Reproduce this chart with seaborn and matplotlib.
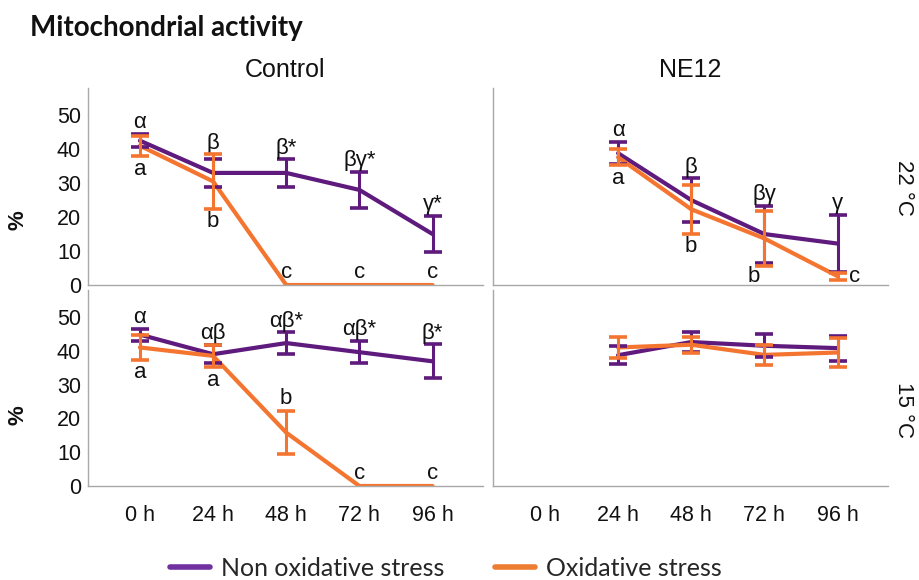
import numpy as np
import pandas as pd
import matplotlib
matplotlib.use("Agg")
import matplotlib.pyplot as plt
import seaborn as sns
from matplotlib.lines import Line2D

# ---------------- data ----------------
times = ["0 h", "24 h", "48 h", "72 h", "96 h"]
series_names = ["Non oxidative stress", "Oxidative stress"]
columns = ["Control", "NE12"]
rows = ["22 °C", "15 °C"]

# Control, 22 °C
ctrl22_non = [42.5, 33.0, 33.0, 28.0, 15.0]
ctrl22_non_err = [2.0, 4.2, 4.0, 5.3, 5.4]
ctrl22_ox = [41.0, 30.5, 0.0, 0.0, 0.0]
ctrl22_ox_err = [3.0, 8.0, 0.0, 0.0, 0.0]
ctrl22_greek = ["α", "β", "β*", "βγ*", "γ*"]
ctrl22_latin = ["a", "b", "c", "c", "c"]
ctrl22_latin_pos = ["below", "below", "above", "above", "above"]

# NE12, 22 °C
ne22_non = [np.nan, 38.8, 25.0, 15.0, 12.2]
ne22_non_err = [np.nan, 3.3, 6.4, 8.4, 8.5]
ne22_ox = [np.nan, 37.6, 22.3, 13.7, 2.6]
ne22_ox_err = [np.nan, 2.4, 7.2, 8.2, 1.0]
ne22_greek = ["", "α", "β", "βγ", "γ"]
ne22_latin = ["", "a", "b", "b", "c"]
ne22_latin_pos = ["", "below", "below", "belowleft", "right"]

# Control, 15 °C
ctrl15_non = [44.8, 39.0, 42.3, 39.6, 36.9]
ctrl15_non_err = [1.8, 2.7, 3.2, 3.3, 5.0]
ctrl15_ox = [41.0, 38.5, 15.8, 0.0, 0.0]
ctrl15_ox_err = [3.6, 3.3, 6.4, 0.0, 0.0]
ctrl15_greek = ["α", "αβ", "αβ*", "αβ*", "β*"]
ctrl15_latin = ["a", "a", "b", "c", "c"]
ctrl15_latin_pos = ["below", "below", "above", "above", "above"]

# NE12, 15 °C
ne15_non = [np.nan, 38.7, 42.6, 41.5, 40.8]
ne15_non_err = [np.nan, 2.6, 2.9, 3.4, 3.7]
ne15_ox = [np.nan, 41.0, 41.8, 38.8, 39.5]
ne15_ox_err = [np.nan, 3.2, 2.4, 3.0, 4.2]
ne15_greek = ["", "", "", "", ""]
ne15_latin = ["", "", "", "", ""]
ne15_latin_pos = ["", "", "", "", ""]

panels = [
    (0, 0, ctrl22_non, ctrl22_non_err, ctrl22_ox, ctrl22_ox_err, ctrl22_greek, ctrl22_latin, ctrl22_latin_pos),
    (0, 1, ne22_non, ne22_non_err, ne22_ox, ne22_ox_err, ne22_greek, ne22_latin, ne22_latin_pos),
    (1, 0, ctrl15_non, ctrl15_non_err, ctrl15_ox, ctrl15_ox_err, ctrl15_greek, ctrl15_latin, ctrl15_latin_pos),
    (1, 1, ne15_non, ne15_non_err, ne15_ox, ne15_ox_err, ne15_greek, ne15_latin, ne15_latin_pos),
]

# ---------------- style ----------------
sns.set_theme(style="white")
plt.rcParams["font.family"] = ["Liberation Sans", "DejaVu Sans"]

line_colors = {"Non oxidative stress": "#5e1a7c", "Oxidative stress": "#f47530"}
legend_colors = {"Non oxidative stress": "#7030a0", "Oxidative stress": "#ed7d31"}
spine_color = "#a8a8a8"
tick_fs = 15.5
letter_fs = 16

W, H = 919, 580
fig = plt.figure(figsize=(W / 100, H / 100), dpi=100)

col_left = [88, 493]
ax_w = 395
row_top = [88, 290]
row_bot = [285, 486]

x_idx = np.arange(len(times))

for (r, c, non, non_err, ox, ox_err, greek, latin, latin_pos) in panels:
    ax = fig.add_axes([col_left[c] / W, 1 - row_bot[r] / H, ax_w / W, (row_bot[r] - row_top[r]) / H])
    df = pd.DataFrame({
        "x": np.concatenate([x_idx, x_idx]),
        "value": np.concatenate([non, ox]),
        "series": [series_names[0]] * len(times) + [series_names[1]] * len(times),
    })
    sns.lineplot(data=df.dropna(), x="x", y="value", hue="series", hue_order=series_names,
                 palette=line_colors, linewidth=3.0, errorbar=None, legend=False, ax=ax,
                 sort=False)
    for name, vals, errs, z in [(series_names[0], non, non_err, 3), (series_names[1], ox, ox_err, 4)]:
        v = np.array(vals, dtype=float)
        e = np.array(errs, dtype=float)
        m = ~np.isnan(v) & (np.nan_to_num(e) > 0)
        ax.errorbar(x_idx[m], v[m], yerr=e[m], fmt="none", ecolor=line_colors[name],
                    elinewidth=2.2, capsize=6.5, capthick=2.6, zorder=z)

    # significance letters
    nv, ne_ = np.array(non, float), np.array(non_err, float)
    ov, oe = np.array(ox, float), np.array(ox_err, float)
    for i in range(len(times)):
        if greek[i]:
            top = np.nanmax([nv[i] + ne_[i], ov[i] + oe[i]])
            ax.annotate(greek[i], (i, top), xytext=(0, 4), textcoords="offset points",
                        ha="center", va="baseline", fontsize=letter_fs, color="#111111")
        if latin[i]:
            pos = latin_pos[i]
            if pos == "below":
                bot = np.nanmin([nv[i] - ne_[i], ov[i] - oe[i]])
                ax.annotate(latin[i], (i, bot), xytext=(0, -2), textcoords="offset points",
                            ha="center", va="top", fontsize=letter_fs, color="#111111")
            elif pos == "above":
                ax.annotate(latin[i], (i, ov[i] + oe[i]), xytext=(0, 5), textcoords="offset points",
                            ha="center", va="baseline", fontsize=letter_fs, color="#111111")
            elif pos == "belowleft":
                ax.annotate(latin[i], (i, ov[i] - oe[i]), xytext=(-8, 0), textcoords="offset points",
                            ha="center", va="top", fontsize=letter_fs, color="#111111")
            elif pos == "right":
                ax.annotate(latin[i], (i, ov[i]), xytext=(12, 0), textcoords="offset points",
                            ha="center", va="center", fontsize=letter_fs, color="#111111")

    ax.set_xlim(-0.71, 4.69)
    ax.set_ylim(0, 58)
    ax.set_xlabel("")
    ax.set_ylabel("")
    ax.set_xticks(x_idx)
    ax.set_yticks([0, 10, 20, 30, 40, 50])
    if r == 1:
        ax.set_xticklabels(times, fontsize=tick_fs, color="#111111")
    else:
        ax.set_xticklabels([])
    if c == 0:
        ax.set_yticklabels(["0", "10", "20", "30", "40", "50"], fontsize=tick_fs, color="#111111")
    else:
        ax.set_yticklabels([])
    ax.tick_params(axis="both", length=0)
    ax.tick_params(axis="y", pad=5)
    ax.tick_params(axis="x", pad=14)
    for s in ["top", "right"]:
        ax.spines[s].set_visible(False)
    for s in ["left", "bottom"]:
        ax.spines[s].set_color(spine_color)
        ax.spines[s].set_linewidth(1.0)
    ax.set_facecolor("none")

# titles / labels
fig.text(30 / W, 1 - 28 / H, "Mitochondrial activity", fontsize=20, fontweight="bold",
         family=["Lato", "DejaVu Sans"], ha="left", va="center", color="#111111")
for c, name in enumerate(columns):
    fig.text((col_left[c] + ax_w / 2) / W, 1 - 70 / H, name, fontsize=18, ha="center",
             va="center", color="#111111")
for r, name in enumerate(rows):
    yc = [188, 410][r]
    fig.text(903 / W, 1 - yc / H, name, fontsize=16, rotation=270, ha="center",
             va="center", color="#111111")
for yc in [220, 415]:
    fig.text(18 / W, 1 - yc / H, "%", fontsize=16, fontweight="bold", rotation=90,
             ha="center", va="center", color="#111111")

handles = [Line2D([0], [0], color=legend_colors[n], linewidth=4) for n in series_names]
leg = fig.legend(handles, series_names, loc="center", bbox_to_anchor=(446 / W, 1 - 568 / H),
                 ncol=2, frameon=False, prop={"family": ["Lato", "DejaVu Sans"], "size": 18},
                 handlelength=1.6, handletextpad=0.45, columnspacing=2.0)

fig.savefig("out.png", dpi=100)
